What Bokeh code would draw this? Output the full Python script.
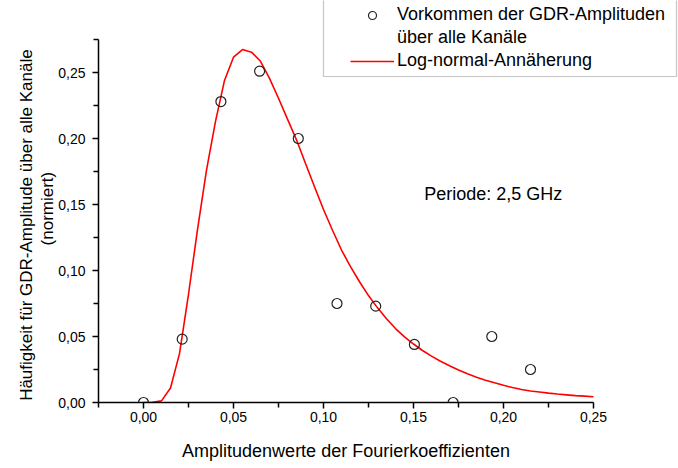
from bokeh.plotting import figure
from bokeh.models import (Range1d, FixedTicker, CustomJSTickFormatter, Label,
                          Legend, LegendItem, BoxAnnotation, ColumnDataSource)
from bokeh.embed import file_html
from bokeh.resources import INLINE

# Measured histogram of GDR amplitudes (normalised)
amp_x = [0.0, 0.0215, 0.043, 0.0645, 0.086, 0.1075, 0.129, 0.1505, 0.172, 0.1935, 0.215]
amp_y = [0.0, 0.048, 0.228, 0.251, 0.200, 0.075, 0.073, 0.044, 0.0, 0.050, 0.025]

# Log-normal approximation, sampled every 0.005
fit_x = [0.000, 0.005, 0.010, 0.015, 0.020, 0.025, 0.030, 0.035, 0.040, 0.045,
         0.050, 0.055, 0.060, 0.065, 0.070, 0.075, 0.080, 0.085, 0.090, 0.095,
         0.100, 0.105, 0.110, 0.115, 0.120, 0.125, 0.130, 0.135, 0.140, 0.145,
         0.150, 0.155, 0.160, 0.165, 0.170, 0.175, 0.180, 0.185, 0.190, 0.195,
         0.200, 0.205, 0.210, 0.215, 0.220, 0.225, 0.230, 0.235, 0.240, 0.245,
         0.250]
fit_y = [0.0, 0.0002, 0.0012, 0.011, 0.037, 0.082, 0.131, 0.176, 0.213, 0.244,
         0.2616, 0.2674, 0.2654, 0.2585, 0.2455, 0.2305, 0.2147, 0.1990, 0.1810, 0.1635,
         0.1462, 0.1305, 0.1155, 0.1030, 0.0915, 0.0810, 0.0717, 0.0635, 0.0560, 0.0497,
         0.0443, 0.0394, 0.0351, 0.0312, 0.0278, 0.0246, 0.0217, 0.0191, 0.0169, 0.0149,
         0.0130, 0.0113, 0.0099, 0.0087, 0.0079, 0.0071, 0.0064, 0.0058, 0.0052, 0.0048,
         0.0044]

x_major = [0.0, 0.05, 0.10, 0.15, 0.20, 0.25]
x_minor = [-0.025, 0.025, 0.075, 0.125, 0.175, 0.225]
y_major = [0.0, 0.05, 0.10, 0.15, 0.20, 0.25]
y_minor = [0.025, 0.075, 0.125, 0.175, 0.225, 0.275]
x_axis_span = (-0.025, 0.25)
y_axis_span = (0.0, 0.275)

FONT = "Liberation Sans"
NBSP = "\u00a0"

# The plotting frame reaches the top and right canvas edges so the legend box
# can sit there; the axis lines themselves are bounded to their spans.
p = figure(width=678, height=468, output_backend="svg", toolbar_location=None,
           x_range=Range1d(-0.025, -0.025 + 580 / 1800),
           y_range=Range1d(0.0, 402 / 1320),
           min_border_left=98, min_border_right=0, min_border_top=0,
           min_border_bottom=66)
p.outline_line_color = None
p.xgrid.visible = False
p.ygrid.visible = False
p.background_fill_color = "white"
p.border_fill_color = "white"

fmt = CustomJSTickFormatter(code="return tick.toFixed(2).replace('.', ',');")

for ax, major, minor, span in ((p.xaxis[0], x_major, x_minor, x_axis_span),
                               (p.yaxis[0], y_major, y_minor, y_axis_span)):
    ax.ticker = FixedTicker(ticks=major, minor_ticks=minor)
    ax.formatter = fmt
    ax.bounds = span
    ax.axis_line_color = "black"
    ax.axis_line_width = 1.5
    ax.major_tick_line_color = "black"
    ax.minor_tick_line_color = "black"
    ax.major_tick_line_width = 1.5
    ax.minor_tick_line_width = 1.5
    ax.major_tick_out = 6
    ax.major_tick_in = 0
    ax.minor_tick_out = 5
    ax.minor_tick_in = 0
    ax.major_label_text_font = FONT
    ax.major_label_text_font_size = "14px"
    ax.major_label_text_color = "black"
    ax.axis_label_text_font = FONT
    ax.axis_label_text_font_style = "normal"
    ax.axis_label_text_color = "black"

# axis titles are centred on the whole frame; trailing no-break spaces pull
# them back over the bounded axis lines
p.xaxis.axis_label = "Amplitudenwerte der Fourierkoeffizienten" + NBSP * 17
p.xaxis.axis_label_text_font_size = "18px"
p.xaxis.major_label_standoff = 3
p.xaxis.axis_label_standoff = 16
p.yaxis.axis_label = ("Häufigkeit für GDR-Amplitude über alle Kanäle" + NBSP * 10
                      + "\n(normiert)" + NBSP * 3)
p.yaxis.axis_label_text_font_size = "17px"
p.yaxis.major_label_standoff = 7
p.yaxis.axis_label_standoff = -2
p.yaxis.axis_label_text_line_height = 1.1

fit_src = ColumnDataSource(data=dict(x=fit_x, y=fit_y))
amp_src = ColumnDataSource(data=dict(x=amp_x, y=amp_y))

fit_r = p.line("x", "y", source=fit_src, line_color="#ff0000", line_width=1.6)
amp_r = p.scatter("x", "y", source=amp_src, marker="circle", size=10,
                  fill_color=None, line_color="#222222", line_width=1.2)
# transparent placeholder so the second legend line carries no symbol
blank_r = p.scatter(x=[], y=[], marker="circle", size=1, fill_alpha=0, line_alpha=0)

p.add_layout(Label(x=0.156, y=0.158, text="Periode: 2,5 GHz", text_font=FONT,
                   text_font_size="18px", text_baseline="middle", text_color="black"))

legend = Legend(items=[
    LegendItem(label="Vorkommen der GDR-Amplituden", renderers=[amp_r]),
    LegendItem(label="über alle Kanäle", renderers=[blank_r]),
    LegendItem(label="Log-normal-Annäherung", renderers=[fit_r]),
], location=(247, 326))
legend.label_text_font = FONT
legend.label_text_font_size = "18px"
legend.label_text_color = "black"
legend.label_height = 20
legend.glyph_height = 20
legend.glyph_width = 44
legend.label_standoff = 3
legend.spacing = 2
legend.padding = 5
legend.border_line_alpha = 0
legend.background_fill_alpha = 0
p.add_layout(legend)

p.add_layout(BoxAnnotation(left=225, right=578, top=403, bottom=326,
                           left_units="screen", right_units="screen",
                           top_units="screen", bottom_units="screen",
                           fill_alpha=0, line_color="#404040", line_width=1.2))

open("out.html", "w").write(file_html(p, INLINE))
